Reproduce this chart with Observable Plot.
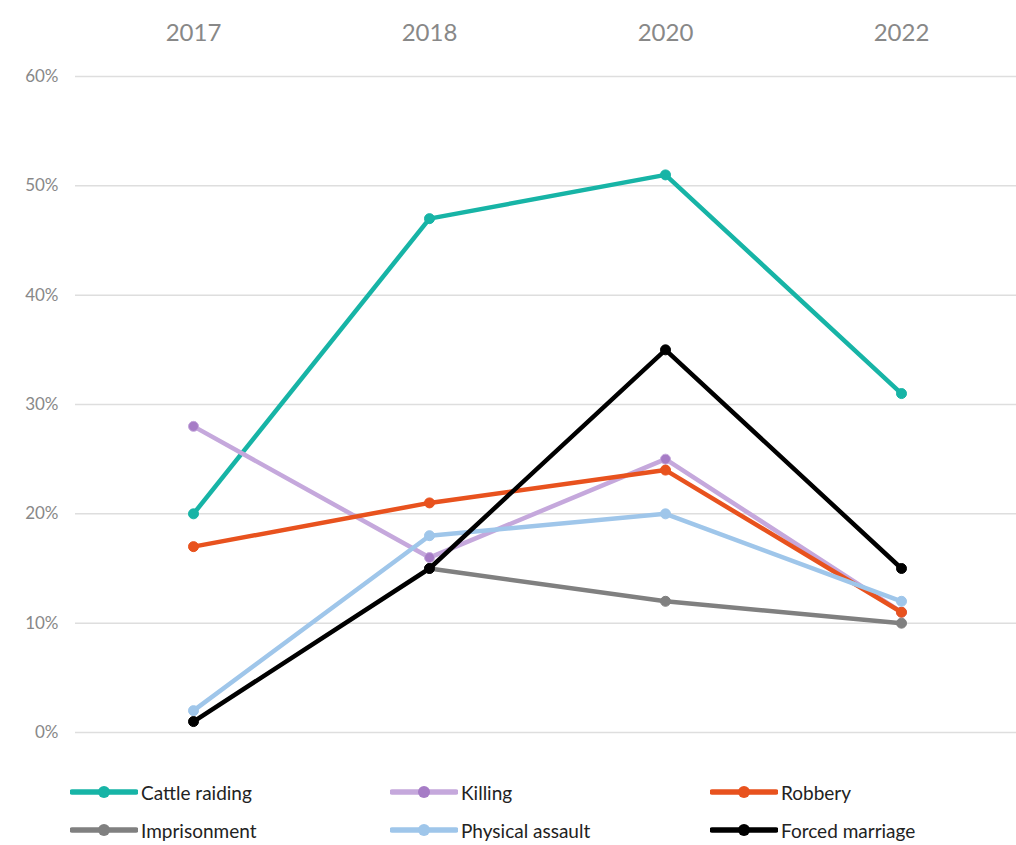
<!DOCTYPE html>
<html>
<head>
<meta charset="utf-8">
<script src="https://cdn.jsdelivr.net/npm/d3@7"></script>
<script src="https://cdn.jsdelivr.net/npm/@observablehq/plot@0.6"></script>
<style>
  body { margin: 0; background: #fff; font-family: Lato, "Open Sans", sans-serif; }
  #legend { position: relative; height: 85px; width: 1016px; }
  .item { position: absolute; display: flex; align-items: center; font-size: 19px; color: #222; }
  .item svg { margin-right: 3px; }
</style>
</head>
<body>
<div id="chart"></div>
<div id="legend"></div>
<script>
const years = ["2017", "2018", "2020", "2022"];
const seriesNames = ["Cattle raiding", "Killing", "Robbery", "Imprisonment", "Physical assault", "Forced marriage"];
const cattleRaiding   = [20, 47, 51, 31];
const killing         = [28, 16, 25, 11];
const robbery         = [17, 21, 24, 11];
const imprisonment    = [null, 15, 12, 10];
const physicalAssault = [2, 18, 20, 12];
const forcedMarriage  = [1, 15, 35, 15];
const yTicks = [0, 10, 20, 30, 40, 50, 60];

const lineColors   = ["#17b4a6", "#c5a8dc", "#e8521e", "#808080", "#9fc6ea", "#000000"];
const markerColors = ["#17b4a6", "#a67cc6", "#e8521e", "#808080", "#9fc6ea", "#000000"];

const values = [cattleRaiding, killing, robbery, imprisonment, physicalAssault, forcedMarriage];
const rows = [];
seriesNames.forEach((s, i) => {
  years.forEach((y, j) => {
    if (values[i][j] != null) rows.push({series: s, year: y, value: values[i][j], idx: i});
  });
});

const marks = [
  Plot.gridY(yTicks, {stroke: "#dedede", strokeOpacity: 1, strokeWidth: 1.5})
];
seriesNames.forEach((s, i) => {
  const d = rows.filter(r => r.series === s);
  marks.push(Plot.line(d, {x: "year", y: "value", stroke: lineColors[i], strokeWidth: 4.5}));
  marks.push(Plot.dot(d, {x: "year", y: "value", r: 5, fill: markerColors[i], stroke: lineColors[i], strokeWidth: 1}));
});

const chart = Plot.plot({
  width: 1016,
  height: 760,
  marginLeft: 75,
  marginRight: 0,
  marginTop: 76,
  marginBottom: 28,
  style: {fontFamily: "Lato, 'Open Sans', sans-serif", background: "#fff"},
  x: {type: "point", domain: years, padding: 0.5, range: [75, 1019], axis: null},
  y: {domain: [0, 60], axis: null},
  marks: [
    ...marks,
    Plot.axisX({anchor: "top", tickSize: 0, tickPadding: 36, fontSize: 24, color: "#888", label: null}),
    Plot.axisY(yTicks, {anchor: "left", tickSize: 0, tickPadding: 17, fontSize: 17, color: "#888", tickFormat: d => d + "%", label: null})
  ]
});
document.getElementById("chart").appendChild(chart);

// legend
const legend = document.getElementById("legend");
const colX = [70, 390, 710];
const rowY = [32, 70];
seriesNames.forEach((s, i) => {
  const col = i % 3, row = Math.floor(i / 3);
  const div = document.createElement("div");
  div.className = "item";
  div.style.left = colX[col] + "px";
  div.style.top = (rowY[row] - 12) + "px";
  div.innerHTML = `<svg width="68" height="24"><line x1="2" x2="66" y1="12" y2="12" stroke="${lineColors[i]}" stroke-width="5.5" stroke-linecap="round"/><circle cx="34" cy="12" r="6" fill="${markerColors[i]}"/></svg><span>${s}</span>`;
  legend.appendChild(div);
});
</script>
</body>
</html>
